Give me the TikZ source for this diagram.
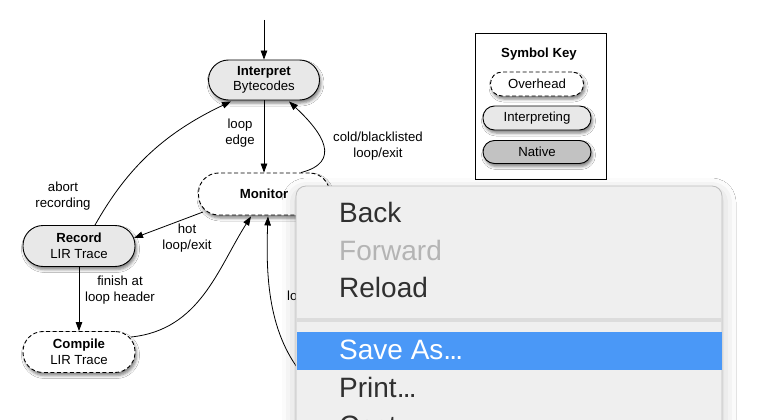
\documentclass[tikz,border=0pt]{standalone}
\usepackage{fontspec}
\setmainfont{Liberation Sans}
\usetikzlibrary{arrows.meta,shadows.blur,calc}
\definecolor{interpfill}{HTML}{E8E8E8}
\definecolor{nativefill}{HTML}{C2C2C2}
\definecolor{menufill}{HTML}{EFEFEF}
\definecolor{menuborder}{HTML}{BDBDBD}
\definecolor{menusep}{HTML}{DCDCDC}
\definecolor{menublue}{HTML}{4A98F7}
\definecolor{menutext}{HTML}{303030}
\definecolor{menugray}{HTML}{B4B4B4}
\newcommand{\difont}{\fontsize{13.2}{15.5}\selectfont}
\newcommand{\mnfont}{\fontsize{28}{32}\selectfont}
\newcommand{\mdots}{.\kern-1.8pt.\kern-1.8pt.}
\begin{document}
\begin{tikzpicture}[x=1pt,y=-1pt,
  nodeshadow/.style={blur shadow={shadow xshift=1.5pt,shadow yshift=-3pt,shadow blur radius=3pt,shadow opacity=50}},
  state/.style={draw,line width=0.9pt,inner sep=0pt,align=center,font=\difont,nodeshadow},
  bigpill/.style={state,minimum width=112pt,minimum height=41pt,rounded corners=20pt},
  smallpill/.style={state,minimum height=24pt,rounded corners=11.5pt},
  overhead/.style={fill=white,dash pattern=on 4pt off 2.5pt},
  interp/.style={fill=interpfill},
  native/.style={fill=nativefill},
  lbl/.style={align=center,font=\difont,inner sep=0pt},
  conn/.style={draw,line width=0.8pt,-{Triangle[length=9pt,width=6.5pt]}},
  menuitem/.style={anchor=base west,font=\mnfont,inner sep=0pt,text=menutext}
]
\clip (0,0) rectangle (766,420);
\fill[white] (0,0) rectangle (766,420);

% states
\node[bigpill,interp,minimum width=111pt,minimum height=40pt] (interp) at (264,80) {\textbf{Interpret}\\Bytecodes};
\node[bigpill,overhead,minimum width=131pt,minimum height=42pt] (monitor) at (264,194) {\textbf{Monitor}};
\node[bigpill,interp] (record) at (79,246) {\textbf{Record}\\LIR Trace};
\node[bigpill,overhead] (compile) at (79,352) {\textbf{Compile}\\LIR Trace};

% key
\node[draw,line width=0.9pt,minimum width=131pt,minimum height=146pt,inner sep=0pt] (keybox) at (540.5,106) {};
\node[lbl] (keytitle) at (539,54) {\textbf{Symbol Key}};
\node[smallpill,overhead,minimum width=93pt] (kover) at (537,84) {Overhead};
\node[smallpill,interp,minimum width=108pt] (kinterp) at (537,118) {Interpreting};
\node[smallpill,native,minimum width=108pt,minimum height=23pt] (knative) at (537,152) {Native};

% connectors
\coordinate (entry) at (264,20);
\draw[conn] (entry) -- (interp.north);
\draw[conn] (interp.south) -- (monitor.north);
\node[lbl] (lloop) at (240,133) {loop\\edge};

\draw[conn] ($(monitor.north)+(37,0)$) .. controls (342,162) and (323,133) .. ($(interp.south)+(25,1)$);
\node[lbl] (lcold) at (378,146) {cold/blacklisted\\loop/exit};

\draw[conn] ($(record.north)+(16,0)$) .. controls (125,172) and (160,135) .. ($(interp.south)+(-33,1)$);
\node[lbl] (labort) at (63,196) {abort\\recording};

\draw[conn] ($(monitor.center)+(-61,18)$) -- ($(record.center)+(55,-8)$);
\node[lbl] (lhot) at (187,238) {hot\\loop/exit};

\draw[conn] (record.south) -- (compile.north);
\node[lbl] (lfinish) at (120,290) {finish at\\loop header};

\draw[conn] ($(compile.center)+(52,-15)$) .. controls (200,330) and (218,268) .. ($(monitor.south)+(-13,1)$);

\coordinate (below) at (312,385);
\draw[conn] (below) .. controls (272,345) and (265,290) .. ($(monitor.south)+(4,1)$);
\node[lbl,anchor=west] (llo) at (287,296) {lo};

% context menu
\node[draw=menuborder,line width=0.8pt,fill=menufill,rounded corners=10pt,
      minimum width=426pt,minimum height=280pt,inner sep=0pt,
      blur shadow={shadow xshift=0pt,shadow yshift=-6pt,shadow blur radius=14pt,shadow opacity=22}] (menu) at (509,326) {};
\fill[menusep] (296.5,318) rectangle (721.5,322);
\fill[menublue] (296.5,332) rectangle (721.5,370);
\node[menuitem] (mback) at (339,222) {Back};
\node[menuitem,text=menugray] (mfwd) at (339,260) {Forward};
\node[menuitem] (mreload) at (339,297.5) {Reload};
\node[menuitem,text=white] (msave) at (339,359) {Save As\mdots};
\node[menuitem] (mprint) at (339,397) {Print\mdots};
\node[menuitem] (mcast) at (339,435) {Cast\mdots};
\end{tikzpicture}
\end{document}
